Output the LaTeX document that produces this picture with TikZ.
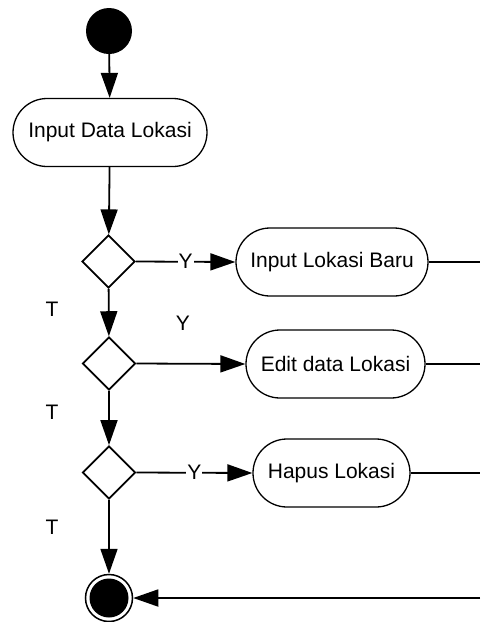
\documentclass[tikz,border=0pt]{standalone}
\usepackage{fontspec}
\setmainfont{Liberation Sans}
\usetikzlibrary{arrows.meta,shapes.geometric,shapes.misc}
\begin{document}
\begin{tikzpicture}[x=1pt,y=-1pt,
  every node/.style={font=\fontsize{21}{25}\selectfont},
  act/.style={rounded rectangle, draw, line width=1.3pt, minimum height=68pt, inner sep=0pt},
  dec/.style={diamond, draw, line width=1.8pt, minimum width=53pt, minimum height=53pt, inner sep=0pt, aspect=1},
  startnode/.style={circle, fill, minimum size=46pt, inner sep=0pt},
  endouter/.style={circle, draw, line width=1.5pt, minimum size=47pt, inner sep=0pt},
  arr/.style={line width=1.8pt, -{Triangle[length=25pt,width=17pt]}},
  ln/.style={line width=1.8pt},
  lbl/.style={fill=white, inner sep=1pt}
]
\useasboundingbox (0,0) rectangle (480,622);
\node[startnode] (s) at (109,31) {};
\node[act, minimum width=194pt] (a1) at (110,132.5) {Input Data Lokasi};
\node[dec] (d1) at (108.5,261.5) {};
\node[dec] (d2) at (109,363.5) {};
\node[dec] (d3) at (109,472.5) {};
\node[act, minimum width=192pt] (b1) at (332,262) {Input Lokasi Baru};
\node[act, minimum width=179pt] (b2) at (335.5,364) {Edit data Lokasi};
\node[act, minimum width=157pt] (b3) at (331.5,473) {Hapus Lokasi};
\node[endouter] (e) at (109,598) {};
\fill (e.center) circle (19.5pt);
\coordinate (r1) at (480,262);
\coordinate (r2) at (480,364);
\coordinate (r3) at (480,473);
\coordinate (r4) at (480,598);

\draw[arr] (s) -- (a1);
\draw[arr] (a1) -- (d1);
\draw[arr] (d1) -- (d2);
\draw[arr] (d2) -- (d3);
\draw[arr] (d3) -- (e);
\draw[arr] (d1.east) -- node[lbl] {Y} (b1.west);
\draw[arr] (d2.east) -- (b2.west);
\draw[arr] (d3.east) -- node[lbl] {Y} (b3.west);
\draw[ln] (b1.east) -- (r1);
\draw[ln] (b2.east) -- (r2);
\draw[ln] (b3.east) -- (r3);
\draw[arr] (r4) -- (e);

\node (t1) at (52,309) {T};
\node (y2) at (183,323) {Y};
\node (t2) at (52,412) {T};
\node (t3) at (52,527) {T};
\end{tikzpicture}
\end{document}
